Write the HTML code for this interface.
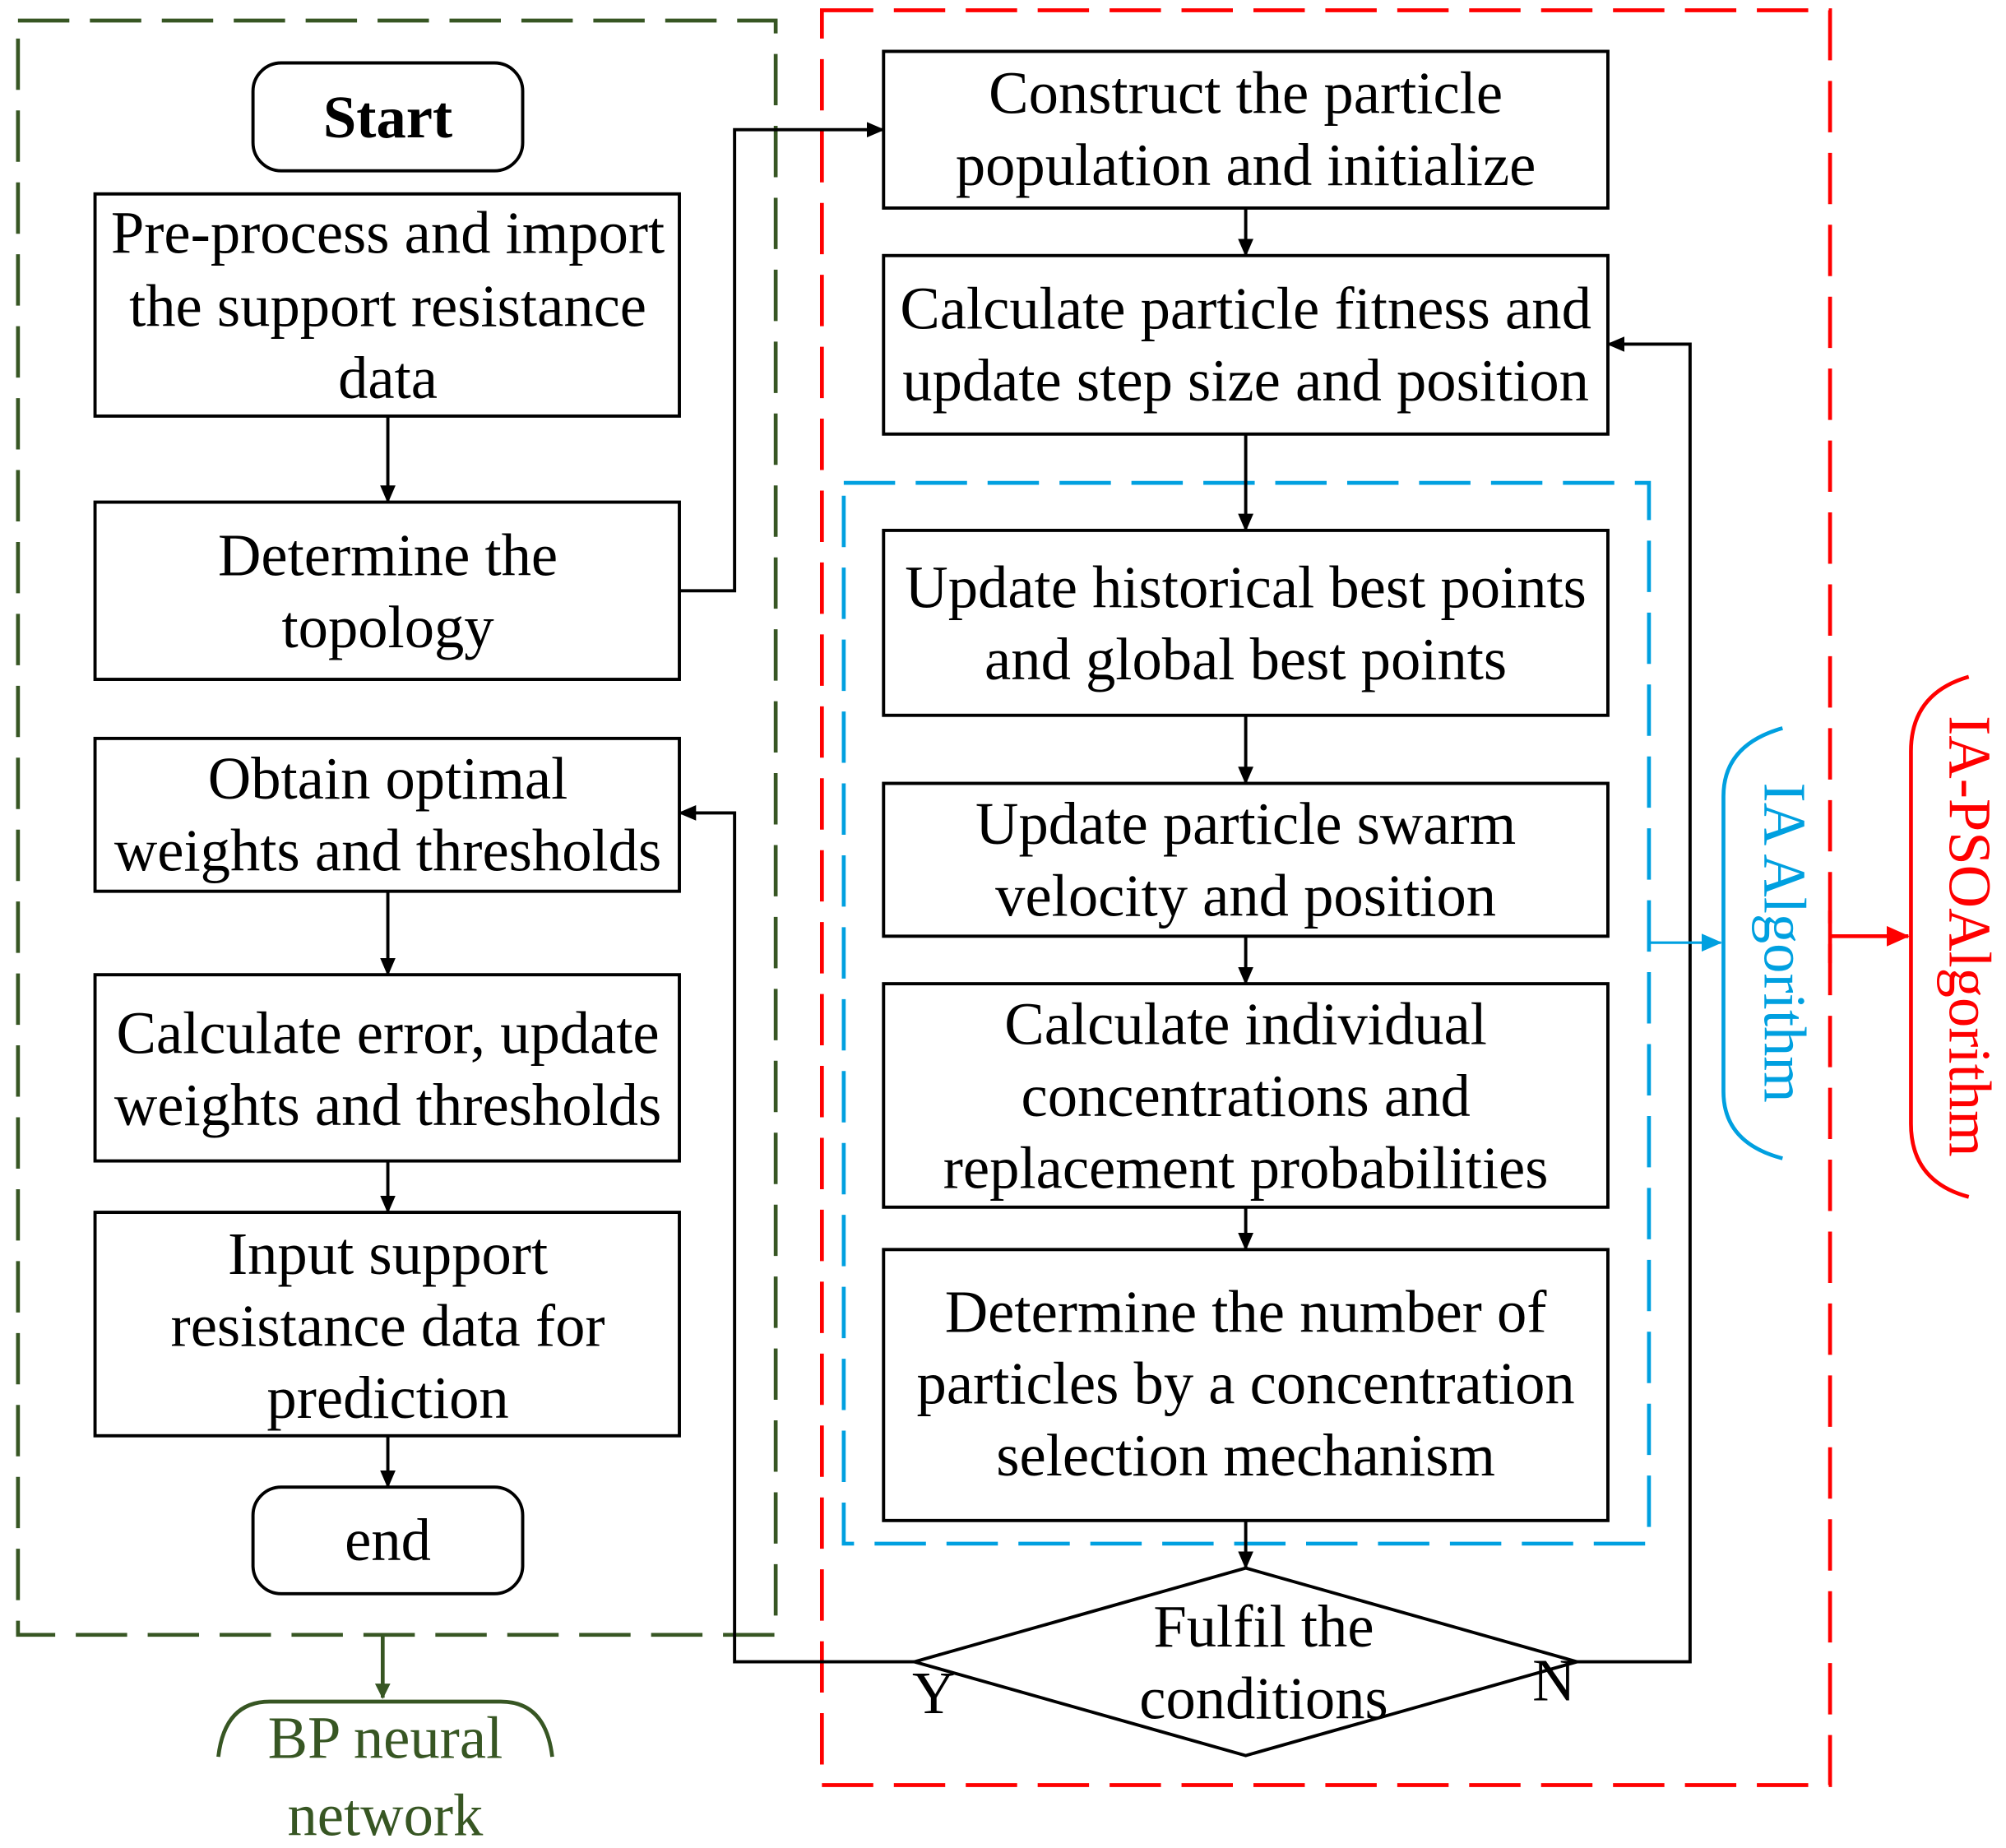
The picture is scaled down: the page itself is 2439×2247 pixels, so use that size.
<!DOCTYPE html>
<html><head><meta charset="utf-8"><style>
html,body{margin:0;padding:0;background:#fff;}
svg{display:block}
text{font-family:"Liberation Serif",serif;font-size:46.5px;fill:#000;text-anchor:middle;}
</style></head><body>
<svg width="2439" height="2247" viewBox="0 0 1562 1439" preserveAspectRatio="none" xmlns="http://www.w3.org/2000/svg">
<defs>
<marker id="ak" markerWidth="14" markerHeight="12" refX="13" refY="6" orient="auto" markerUnits="userSpaceOnUse"><path d="M0,0 L14,6 L0,12 z" fill="#000"/></marker>
<marker id="ag" markerWidth="12" markerHeight="12" refX="11" refY="6" orient="auto" markerUnits="userSpaceOnUse"><path d="M0,0 L12,6 L0,12 z" fill="#375623"/></marker>
<marker id="ab" markerWidth="16" markerHeight="14" refX="15" refY="7" orient="auto" markerUnits="userSpaceOnUse"><path d="M0,0 L16,7 L0,14 z" fill="#00a0e0"/></marker>
<marker id="ar" markerWidth="18" markerHeight="16" refX="17" refY="8" orient="auto" markerUnits="userSpaceOnUse"><path d="M0,0 L18,8 L0,16 z" fill="#f00"/></marker>
</defs>
<rect width="1562" height="1439" fill="#fff"/>
<rect x="14" y="16" width="590" height="1257" fill="none" stroke="#375623" stroke-width="3" stroke-dasharray="40,16"/>
<rect x="640" y="8" width="785" height="1382" fill="none" stroke="#f00" stroke-width="3" stroke-dasharray="40,16"/>
<rect x="657" y="376" width="627" height="826" fill="none" stroke="#00a0e0" stroke-width="3" stroke-dasharray="40,16"/>

<g fill="#fff" stroke="#000" stroke-width="2.5">
<rect x="197" y="49" width="210" height="84" rx="22"/>
<rect x="74" y="151" width="455" height="173"/>
<rect x="74" y="391" width="455" height="138"/>
<rect x="74" y="575" width="455" height="119"/>
<rect x="74" y="759" width="455" height="145"/>
<rect x="74" y="944" width="455" height="174"/>
<rect x="197" y="1158" width="210" height="83" rx="22"/>
<rect x="688" y="40" width="564" height="122"/>
<rect x="688" y="199" width="564" height="139"/>
<rect x="688" y="413" width="564" height="144"/>
<rect x="688" y="610" width="564" height="119"/>
<rect x="688" y="766" width="564" height="174"/>
<rect x="688" y="973" width="564" height="211"/>
<path d="M970,1221 L1228,1294 L970,1367 L712,1294 Z"/>
</g>

<g stroke="#000" stroke-width="2.5" fill="none" marker-end="url(#ak)">
<line x1="302" y1="324" x2="302" y2="391"/>
<line x1="302" y1="694" x2="302" y2="759"/>
<line x1="302" y1="904" x2="302" y2="944"/>
<line x1="302" y1="1118" x2="302" y2="1158"/>
<line x1="970" y1="162" x2="970" y2="199"/>
<line x1="970" y1="338" x2="970" y2="413"/>
<line x1="970" y1="557" x2="970" y2="610"/>
<line x1="970" y1="729" x2="970" y2="766"/>
<line x1="970" y1="940" x2="970" y2="973"/>
<line x1="970" y1="1184" x2="970" y2="1221"/>
<polyline points="529,460 572,460 572,101 688,101"/>
<polyline points="712,1294 572,1294 572,633 529,633"/>
<polyline points="1228,1294 1316,1294 1316,268 1252,268"/>
</g>

<text x="302" y="107" style="font-weight:bold">Start</text>
<text x="302" y="197">Pre-process and import</text>
<text x="302" y="254">the support resistance</text>
<text x="302" y="310">data</text>
<text x="302" y="448">Determine the</text>
<text x="302" y="504">topology</text>
<text x="302" y="622">Obtain optimal</text>
<text x="302" y="678">weights and thresholds</text>
<text x="302" y="820">Calculate error, update</text>
<text x="302" y="876">weights and thresholds</text>
<text x="302" y="992">Input support</text>
<text x="302" y="1048">resistance data for</text>
<text x="302" y="1104">prediction</text>
<text x="302" y="1215">end</text>
<text x="970" y="88">Construct the particle</text>
<text x="970" y="144">population and initialize</text>
<text x="970" y="256">Calculate particle fitness and</text>
<text x="970" y="312">update step size and position</text>
<text x="970" y="473">Update historical best points</text>
<text x="970" y="529">and global best points</text>
<text x="970" y="657">Update particle swarm</text>
<text x="970" y="713">velocity and position</text>
<text x="970" y="813">Calculate individual</text>
<text x="970" y="869">concentrations and</text>
<text x="970" y="925">replacement probabilities</text>
<text x="970" y="1037">Determine the number of</text>
<text x="970" y="1093">particles by a concentration</text>
<text x="970" y="1149">selection mechanism</text>
<text x="984" y="1282">Fulfil the</text>
<text x="984" y="1338">conditions</text>
<text x="727" y="1334">Y</text>
<text x="1210" y="1324">N</text>

<line x1="1284" y1="734" x2="1340" y2="734" stroke="#00a0e0" stroke-width="2" marker-end="url(#ab)"/>
<path d="M1388,567 Q1342,580 1342,620 L1342,850 Q1342,890 1388,902" fill="none" stroke="#00a0e0" stroke-width="3"/>
<text transform="translate(1374,734) rotate(90)" style="fill:#00a0e0">IA Algorithm</text>
<line x1="1425" y1="709" x2="1425" y2="750" stroke="#f00" stroke-width="3"/>
<line x1="1425" y1="729" x2="1486" y2="729" stroke="#f00" stroke-width="3" marker-end="url(#ar)"/>
<path d="M1533,527 Q1488,540 1488,585 L1488,875 Q1488,920 1533,932" fill="none" stroke="#f00" stroke-width="3"/>
<text transform="translate(1518,729) rotate(90)" style="fill:#f00">IA-PSOAlgorithm</text>
<line x1="298" y1="1273" x2="298" y2="1322" stroke="#375623" stroke-width="3" marker-end="url(#ag)"/>
<path d="M170,1368 Q175,1325 210,1325 L390,1325 Q425,1325 430,1368" fill="none" stroke="#375623" stroke-width="3"/>
<text x="300" y="1369" style="fill:#375623">BP neural</text>
<text x="300" y="1429" style="fill:#375623">network</text>
</svg>
</body></html>
